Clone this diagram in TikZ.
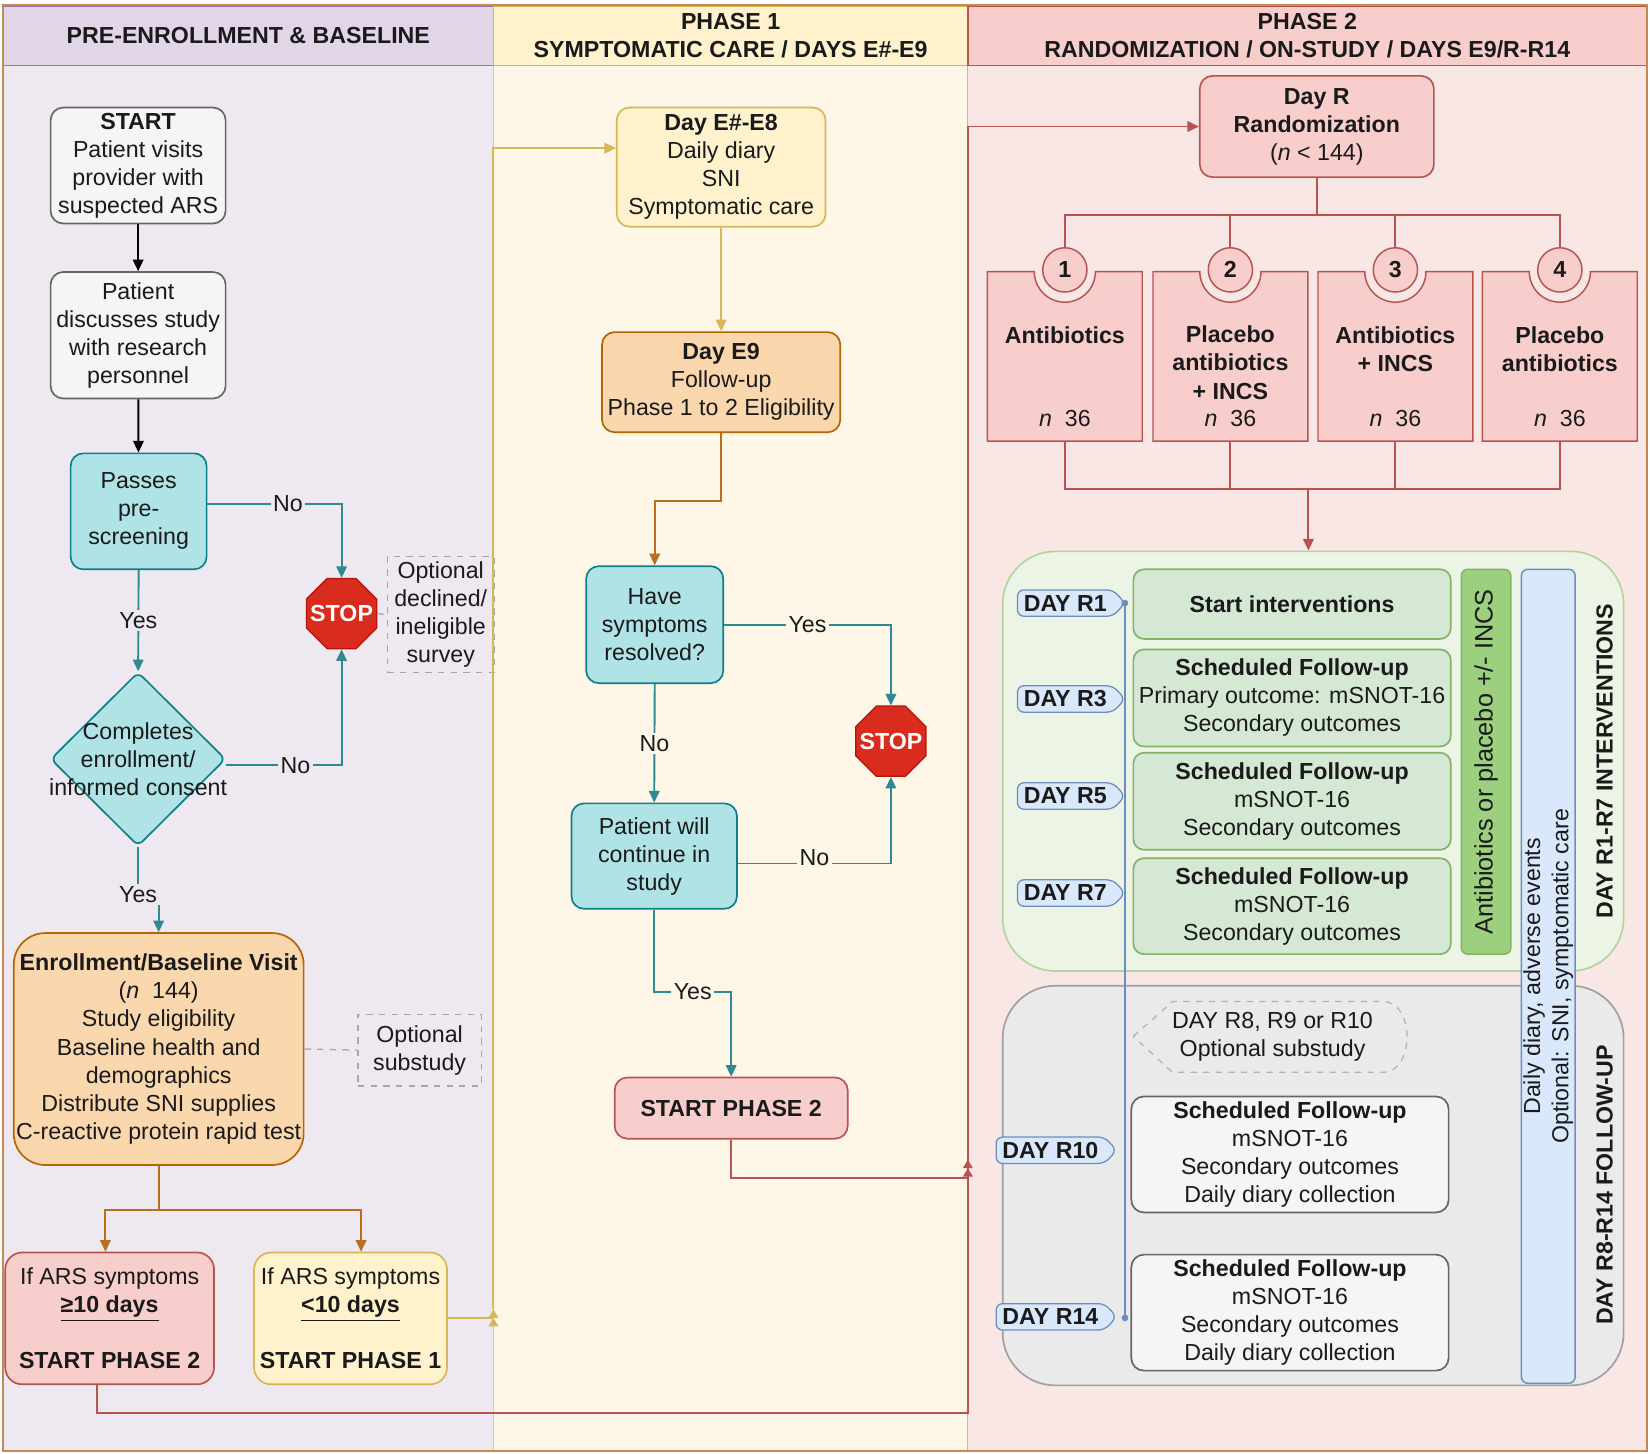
\documentclass[tikz,border=0pt]{standalone}
\usepackage{fontspec}
\setmainfont{Liberation Sans}
\usetikzlibrary{shapes.geometric,shapes.symbols,arrows.meta,calc}
\definecolor{purH}{HTML}{E1D5E7}
\definecolor{purB}{HTML}{9673A6}
\definecolor{purBody}{HTML}{EEE8F1}
\definecolor{yelH}{HTML}{FFF2CC}
\definecolor{yelB}{HTML}{D6B656}
\definecolor{yelBody}{HTML}{FEF7E7}
\definecolor{redH}{HTML}{F8CECC}
\definecolor{redB}{HTML}{B85450}
\definecolor{redBody}{HTML}{F9E7E5}
\definecolor{tealF}{HTML}{B0E3E6}
\definecolor{tealB}{HTML}{0E8088}
\definecolor{tealL}{HTML}{2E8A92}
\definecolor{grayF}{HTML}{F5F5F5}
\definecolor{grayB}{HTML}{666666}
\definecolor{orF}{HTML}{FAD7AC}
\definecolor{orB}{HTML}{B46504}
\definecolor{orL}{HTML}{B8701F}
\definecolor{grnF}{HTML}{D5E8D4}
\definecolor{grnB}{HTML}{82B366}
\definecolor{grnBar}{HTML}{9DD07E}
\definecolor{grnCont}{HTML}{ECF5E5}
\definecolor{grnContB}{HTML}{B3D49C}
\definecolor{bluF}{HTML}{DAE8FC}
\definecolor{bluB}{HTML}{6C8EBF}
\definecolor{gryCont}{HTML}{EBEAEA}
\definecolor{gryContB}{HTML}{A0A0A0}
\definecolor{stopF}{HTML}{D92B1E}
\definecolor{stopB}{HTML}{B3170C}
\definecolor{frameC}{HTML}{C48A52}
\definecolor{txt}{HTML}{1A1A1A}
\tikzset{
  fs/.style={font=\fontsize{11}{13.3}\selectfont, text=txt},
  fsb/.style={font=\fontsize{11}{13.3}\selectfont\bfseries, text=txt},
  hdr/.style={fsb, align=center, minimum height=28pt, inner sep=0pt, line width=0.6pt},
  box/.style={fs, rectangle, rounded corners=6pt, align=center, inner sep=1pt, line width=0.8pt},
  graybox/.style={box, fill=grayF, draw=grayB},
  tealbox/.style={box, fill=tealF, draw=tealB},
  orbox/.style={box, fill=orF, draw=orB},
  redbox/.style={box, fill=redH, draw=redB},
  yelbox/.style={box, fill=yelH, draw=yelB},
  grnbox/.style={box, fill=grnF, draw=grnB, rounded corners=5pt},
  dashbox/.style={fs, rectangle, draw=gray!70, dashed, align=center, inner sep=1pt, line width=0.6pt},
  diam/.style={diamond, fill=tealF, draw=tealB, line width=0.8pt, inner sep=0pt, minimum width=83pt, minimum height=82.5pt, rounded corners=3pt},
  stopsign/.style={regular polygon, regular polygon sides=8, minimum size=36pt, inner sep=0pt, fill=stopF, draw=stopB, line width=0.6pt},
  stoptxt/.style={inner sep=0pt, text=white, font=\fontsize{11}{13}\selectfont\bfseries},
  tip/.style={-{Triangle[length=5.5pt,width=5pt]}},
  dtip/.style={-{Triangle[length=4pt,width=4.5pt]Triangle[length=4pt,width=4.5pt]}},
  karr/.style={line width=0.9pt, draw=black, tip},
  tarr/.style={line width=0.9pt, draw=tealL, tip},
  oarr/.style={line width=0.9pt, draw=orL, tip},
  yarr/.style={line width=0.9pt, draw=yelB, tip},
  rarr/.style={line width=0.9pt, draw=redB, tip},
  rline/.style={line width=0.9pt, draw=redB},
  lbl/.style={fs, inner sep=1.2pt, fill=#1},
  armshape/.style={fill=redH, draw=redB, line width=0.7pt},
  armnum/.style={circle, minimum size=21pt, inner sep=0pt, fill=redH, draw=redB, line width=0.7pt, fsb},
  armtxt/.style={fsb, align=center, inner sep=0pt},
  daytag/.style={signal, signal to=east, signal pointer angle=95, fill=bluF, draw=bluB, line width=0.6pt, fsb, inner xsep=3pt, inner ysep=0.5pt, minimum height=12.5pt, rounded corners=3pt},
}
\begin{document}
\begin{tikzpicture}[x=0.5pt,y=-0.5pt]
\useasboundingbox (0,0) rectangle (1565,1379);
\fill[white] (0,0) rectangle (1565,1379);
% column bodies
\fill[purBody] (3,62) rectangle (468,1376);
\fill[yelBody] (468,62) rectangle (918,1376);
\fill[redBody] (918,62) rectangle (1562,1376);
\draw[purB!50, line width=0.5pt] (3,62) rectangle (468,1376);
\draw[yelB!70, line width=0.5pt] (468,62) rectangle (918,1376);
\draw[redB!50, line width=0.5pt] (918,62) rectangle (1562,1376);
% headers
\node[hdr, fill=purH, draw=purB, minimum width=232.5pt] (h1) at (235.5,34) {PRE-ENROLLMENT \& BASELINE};
\node[hdr, fill=yelH, draw=yelB, minimum width=225pt] (h2) at (693,34) {PHASE 1\\SYMPTOMATIC CARE / DAYS E\#-E9};
\node[hdr, fill=redH, draw=redB, minimum width=322pt] (h3) at (1240,34) {PHASE 2\\RANDOMIZATION / ON-STUDY / DAYS E9/R-R14};
\draw[frameC, line width=0.8pt] (3,5) rectangle (1562,1376);

% ---------- column 1 ----------
\node[graybox, minimum width=83pt, minimum height=55pt] (start) at (131,157)
  {\textbf{START}\\Patient visits\\provider with\\suspected ARS};
\node[graybox, minimum width=83pt, minimum height=60pt] (discuss) at (131,318)
  {Patient\\discusses study\\with research\\personnel};
\node[tealbox, minimum width=64.5pt, minimum height=55pt] (pre) at (131.5,485)
  {Passes\\pre-\\screening};
\node[stopsign] (stop1) at (324,582) {};
\node[stoptxt] (stop1t) at (stop1) {STOP};
\node[dashbox, minimum width=50.5pt, minimum height=55pt] (opt1) at (418,583)
  {Optional\\declined/\\ineligible\\survey};
\node[diam] (consent) at (131,720) {};
\node[fs, align=center, inner sep=0pt] (consentT) at (131,720) {Completes\\enrollment/\\informed consent};
\node[orbox, rounded corners=15pt, minimum width=137.5pt, minimum height=110pt] (enroll) at (150.5,995)
  {\textbf{Enrollment/Baseline Visit}\\(\textit{n}~~144)\\Study eligibility\\Baseline health and\\demographics\\Distribute SNI supplies\\C-reactive protein rapid test};
\node[dashbox, minimum width=58.5pt, minimum height=34pt] (opt2) at (398,996) {Optional\\substudy};
\node[redbox, rounded corners=8pt, minimum width=99pt, minimum height=62.5pt] (p2box) at (104,1250.5)
  {If ARS symptoms\\\underline{\textbf{≥10 days}}\\~\\\textbf{START PHASE 2}};
\node[yelbox, rounded corners=8pt, minimum width=91.5pt, minimum height=62.5pt] (p1box) at (332.5,1250.5)
  {If ARS symptoms\\\underline{\textbf{<10 days}}\\~\\\textbf{START PHASE 1}};

\draw[karr] (start) -- (discuss);
\draw[karr] (discuss) -- (pre);
\draw[tarr] ([yshift=3.5pt]pre.east) -| node[lbl=purBody, pos=0.3] {No} (stop1.north);
\draw[tarr] (pre.south) -- node[lbl=purBody] {Yes} (consent.north);
\draw[tarr] ([yshift=-3pt]consent.east) -| node[lbl=purBody, pos=0.3] {No} (stop1.south);
\draw[tarr] (consent.south) -- ++(0,45) node[lbl=purBody, pos=1] {Yes} -| (enroll.north);
\draw[dashed, gray!70, line width=0.6pt] (stop1.east) -- (opt1.west);
\draw[dashed, gray!70, line width=0.6pt] (enroll.east) -- (opt2.west);
\draw[line width=0.9pt, draw=orL] (enroll.south) -- ++(0,42) coordinate (ej);
\draw[oarr] (ej) -| ([xshift=-2pt]p2box.north);
\draw[oarr] (ej) -| ([xshift=5pt]p1box.north);

% ---------- column 2 ----------
\node[yelbox, minimum width=99pt, minimum height=56.5pt] (dayE8) at (684,158.5)
  {\textbf{Day E\#-E8}\\Daily diary\\SNI\\Symptomatic care};
\node[orbox, minimum width=113pt, minimum height=47.5pt] (dayE9) at (684,362.5)
  {\textbf{Day E9}\\Follow-up\\Phase 1 to 2 Eligibility};
\node[tealbox, minimum width=65pt, minimum height=55.5pt] (resolved) at (621,592.5)
  {Have\\symptoms\\resolved?};
\node[stopsign] (stop2) at (845,703) {};
\node[stoptxt] (stop2t) at (stop2) {STOP};
\node[tealbox, minimum width=78.5pt, minimum height=50pt] (cont) at (620.5,812)
  {Patient will\\continue in\\study};
\node[redbox, minimum width=110.5pt, minimum height=29pt] (sp2) at (693.5,1051) {\textbf{START PHASE 2}};

\coordinate (J1) at (468,1242);
\draw[line width=0.9pt, draw=yelB, dtip] (p1box.east) -| (J1);
\draw[yarr] (J1) |- ([yshift=9pt]dayE8.west);
\draw[yarr] (dayE8) -- (dayE9);
\draw[oarr] (dayE9.south) -- ++(0,64) -| (resolved.north);
\draw[tarr] (resolved.east) -| node[lbl=yelBody, pos=0.25] {Yes} (stop2.north);
\draw[tarr] (resolved.south) -- node[lbl=yelBody] {No} (cont.north);
\draw[tarr] ([yshift=-3.5pt]cont.east) -| node[lbl=yelBody, pos=0.25, yshift=3pt] {No} (stop2.south);
\coordinate (yesc) at (693.5,941);
\draw[tarr] (cont.south) |- node[lbl=yelBody, pos=0.75] {Yes} (yesc) -- (sp2.north);

\coordinate (J2) at (918,1100);
\coordinate (J2b) at (918,1117);
\draw[line width=0.9pt, draw=redB, dtip] ([xshift=-6pt]p2box.south) |- (918,1340) -- (J2);
\draw[rline] (sp2.south) |- (J2b) -- (J2);

% ---------- column 3 ----------
\node[redbox, minimum width=111pt, minimum height=48pt] (dayR) at (1249,120)
  {\textbf{Day R}\\\textbf{Randomization}\\(\textit{n} < 144)};
\draw[rarr] (J2) |- (dayR.west);

% arms
\foreach \i/\cx in {1/1010,2/1167,3/1323.5,4/1479.5}{
  \node[minimum width=73pt, minimum height=80pt, inner sep=0pt] (arm\i) at (\cx,338) {};
  \draw[armshape] (arm\i.north west) -- ($(arm\i.north)+(-29,0)$) arc[start angle=180, end angle=360, radius=14.5pt] -- (arm\i.north east) -- (arm\i.south east) -- (arm\i.south west) -- cycle;
  \node[armnum] (c\i) at (\cx,256) {\i};
  \node[fs, inner sep=0pt] (n\i) at (\cx,397) {\textit{n}~~36};
}
\node[armtxt] (a1t) at (1010,318) {Antibiotics};
\node[armtxt] (a2t) at (1167,344) {Placebo\\antibiotics\\+ INCS};
\node[armtxt] (a3t) at (1323.5,331) {Antibiotics\\+ INCS};
\node[armtxt] (a4t) at (1479.5,331) {Placebo\\antibiotics};

\draw[rline] (dayR.south) -- ++(0,35) coordinate (tr);
\foreach \i in {1,2,3,4}{ \draw[rline] (tr) -| (c\i.north); }
\coordinate (mg) at (1241,464);
\foreach \i in {1,2,3,4}{ \draw[rline] (arm\i.south) |- (mg); }

% containers
\node[rectangle, rounded corners=25pt, fill=grnCont, draw=grnContB, line width=0.8pt, minimum width=294.5pt, minimum height=199pt] (gcont) at (1245.5,722) {};
\node[rectangle, rounded corners=25pt, fill=gryCont, draw=gryContB, line width=0.8pt, minimum width=294.5pt, minimum height=189.5pt] (ycont) at (1245.5,1124.5) {};
\draw[rarr] (mg) -- (mg |- gcont.north);

\node[rotate=90, fsb, inner sep=0pt] (t1) at (1522,722) {DAY R1-R7 INTERVENTIONS};
\node[rotate=90, fsb, inner sep=0pt] (t2) at (1522,1124) {DAY R8-R14 FOLLOW-UP};

\node[rotate=90, fill=bluF, draw=bluB, line width=0.7pt, rounded corners=3pt, minimum width=386pt, minimum height=25.5pt, inner sep=0pt, align=center, fs] (diary) at (1468.5,926)
  {Daily diary, adverse events\\Optional: SNI, symptomatic care};
\node[rotate=90, fill=grnBar, draw=grnB, line width=0.7pt, rounded corners=3pt, minimum width=182.5pt, minimum height=23.5pt, inner sep=0pt, font=\fontsize{12}{14}\selectfont, text=txt] (gbar) at (1409.5,722.5)
  {Antibiotics or placebo +/- INCS};

\node[grnbox, fsb, minimum width=150.5pt, minimum height=33pt] (si) at (1225.5,573) {Start interventions};
\node[grnbox, minimum width=150.5pt, minimum height=46pt] (r3) at (1225.5,662)
  {\textbf{Scheduled Follow-up}\\Primary outcome: mSNOT-16\\Secondary outcomes};
\node[grnbox, minimum width=150.5pt, minimum height=46pt] (r5) at (1225.5,760)
  {\textbf{Scheduled Follow-up}\\mSNOT-16\\Secondary outcomes};
\node[grnbox, minimum width=150.5pt, minimum height=45.5pt] (r7) at (1225.5,859.5)
  {\textbf{Scheduled Follow-up}\\mSNOT-16\\Secondary outcomes};
\node[graybox, minimum width=150.5pt, minimum height=55pt] (r10) at (1223.5,1095)
  {\textbf{Scheduled Follow-up}\\mSNOT-16\\Secondary outcomes\\Daily diary collection};
\node[graybox, minimum width=150.5pt, minimum height=55pt] (r14) at (1223.5,1245)
  {\textbf{Scheduled Follow-up}\\mSNOT-16\\Secondary outcomes\\Daily diary collection};

\draw[dashed, gray!60, line width=0.6pt] (1075,983) -- (1112,950) -- (1312,950) .. controls (1342,950) and (1342,1017) .. (1312,1017) -- (1112,1017) -- cycle;
\node[fs, align=center, inner sep=0pt] (r8) at (1207,983) {DAY R8, R9 or R10\\Optional substudy};

% day tags
\node[daytag, anchor=east, minimum width=51pt] (d1) at (1068,572) {DAY R1};
\node[daytag, anchor=east, minimum width=51pt] (d3) at (1068,663) {DAY R3};
\node[daytag, anchor=east, minimum width=51pt] (d5) at (1068,755) {DAY R5};
\node[daytag, anchor=east, minimum width=51pt] (d7) at (1068,847) {DAY R7};
\node[daytag, anchor=east, minimum width=53pt] (d10) at (1060,1091) {DAY R10};
\node[daytag, anchor=east, minimum width=53pt] (d14) at (1060,1249) {DAY R14};
\coordinate (vtop) at (1067,572);
\coordinate (vbot) at (1067,1250);
\draw[bluB, line width=0.7pt] (vtop) -- (vbot);
\fill[bluB] (vtop) circle (1.6pt) (vbot) circle (1.6pt);
\end{tikzpicture}
\end{document}
